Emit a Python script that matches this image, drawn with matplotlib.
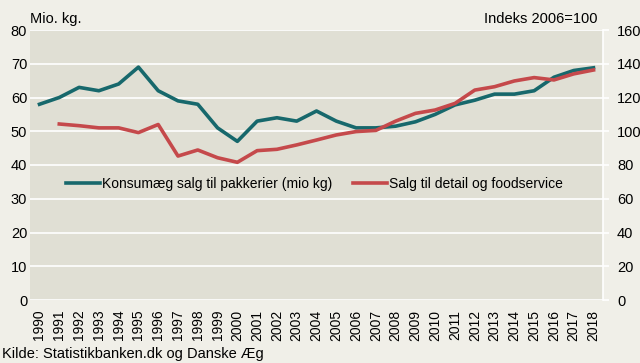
import numpy as np
import matplotlib.pyplot as plt

plt.rcParams['font.family'] = ['Liberation Sans', 'DejaVu Sans']

years = list(range(1990, 2019))
konsum = [58, 60, 63, 62, 64, 69, 62, 59, 58, 51, 47, 53, 54, 53, 56, 53, 51, 51,
          51.5, 52.8, 55, 57.8, 59.2, 61, 61, 62, 66, 68, 68.8]
salg_years = list(range(1991, 2019))
salg = [104.3, 103.3, 102, 102, 99.2, 104, 85.3, 88.9, 84.3, 81.6, 88.5, 89.3, 91.9,
        94.8, 97.8, 99.8, 100.5, 106, 110.6, 112.6, 116.5, 124.4, 126.4, 129.8,
        131.8, 130.4, 134, 136.3]

teal = '#17686c'
red = '#c5494b'
bg = '#f0efe8'
axbg = '#e0dfd4'

fig = plt.figure(figsize=(6.4, 3.63), dpi=100, facecolor=bg)
ax = fig.add_axes([30/640, 1 - 300/363, 573/640, 270/363])
ax.set_facecolor(axbg)
ax2 = ax.twinx()

ax.plot(years, konsum, color=teal, lw=2.6, label='Konsumæg salg til pakkerier (mio kg)', zorder=3)
ax2.plot(salg_years, salg, color=red, lw=2.6, label='Salg til detail og foodservice', zorder=3)

ax.set_xlim(1989.52, 2018.48)
ax.set_ylim(0, 80)
ax2.set_ylim(0, 160)
ax.set_yticks(np.arange(0, 81, 10))
ax2.set_yticks(np.arange(0, 161, 20))
ax.set_xticks(years)
ax.set_xticklabels([str(y) for y in years], rotation=90, fontsize=10)

ax.grid(axis='y', color='white', lw=1.2)
ax.set_axisbelow(True)
for a in (ax, ax2):
    for s in a.spines.values():
        s.set_visible(False)
ax2.spines['right'].set_visible(True)
ax2.spines['right'].set_color('white')
ax2.spines['right'].set_linewidth(1.2)

ax.tick_params(axis='y', length=0, pad=2, labelsize=10.5)
ax.tick_params(axis='x', length=0, pad=7)
ax2.tick_params(axis='y', length=4, color='white', width=1.2, pad=6, labelsize=10.5)

h1, l1 = ax.get_legend_handles_labels()
h2, l2 = ax2.get_legend_handles_labels()
ax2.legend(h1 + h2, l1 + l2, loc='center', bbox_to_anchor=(0.497, 0.43), ncol=2,
           frameon=False, fontsize=10, handlelength=2.4, handletextpad=0.2,
           columnspacing=1.5)

fig.text(30/640, 1 - 19/363, 'Mio. kg.', fontsize=10.5, va='center', ha='left')
fig.text(598/640, 1 - 19/363, 'Indeks 2006=100', fontsize=10.5, va='center', ha='right')
fig.text(2/640, 1 - 354/363, 'Kilde: Statistikbanken.dk og Danske Æg', fontsize=10.5,
         va='center', ha='left')

fig.savefig('out.png', dpi=100, facecolor=bg)
